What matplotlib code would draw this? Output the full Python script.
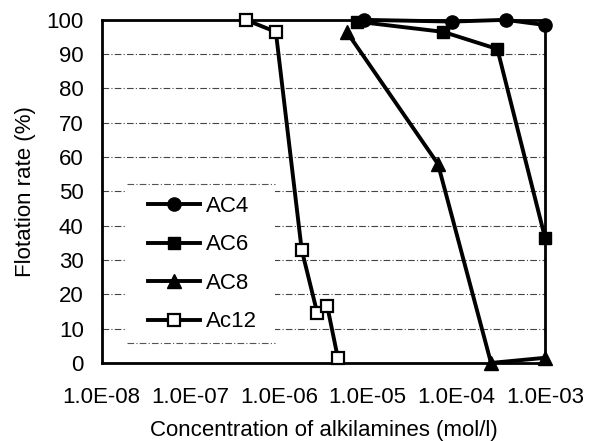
import matplotlib
matplotlib.use("Agg")
import matplotlib.pyplot as plt
from matplotlib.ticker import FixedLocator, NullLocator
from matplotlib.patches import Rectangle

plt.rcParams['font.family'] = ['Liberation Sans', 'DejaVu Sans']

ac4_x = [9.0e-6, 9.0e-5, 3.6e-4, 1.0e-3]
ac4_y = [100, 99.5, 100, 98.5]
ac6_x = [7.5e-6, 7.1e-5, 2.9e-4, 1.0e-3]
ac6_y = [99.5, 96.5, 91.5, 36.5]
ac8_x = [5.8e-6, 6.2e-5, 2.46e-4, 1.0e-3]
ac8_y = [96.5, 58, 0, 1.5]
ac12_x = [4.2e-7, 9.2e-7, 1.8e-6, 2.7e-6, 3.5e-6, 4.6e-6]
ac12_y = [100, 96.5, 33, 14.5, 16.5, 1.5]

xticks = [1e-8, 1e-7, 1e-6, 1e-5, 1e-4, 1e-3]
xticklabels = ["1.0E-08", "1.0E-07", "1.0E-06", "1.0E-05", "1.0E-04", "1.0E-03"]
yticks = list(range(0, 101, 10))

fig = plt.figure(figsize=(5.95, 4.41), dpi=100)
ax = fig.add_axes([0.171, 0.177, 0.745, 0.778])
ax.set_xscale('log')
ax.set_xlim(1e-8, 1e-3)
ax.set_ylim(0, 100)

dash = (0, (6, 2, 1, 2))
for y in yticks[1:-1]:
    ax.axhline(y, color='#444444', lw=0.8, ls=dash, zorder=1)

# legend box (white background, dashed top/bottom borders)
lx0, lx1, ly0, ly1 = 0.0564, 0.3905, 0.0583, 0.5219
ax.add_patch(Rectangle((lx0, ly0), lx1 - lx0, ly1 - ly0, transform=ax.transAxes,
                       facecolor='white', edgecolor='none', zorder=2))
for yy in (ly0, ly1):
    ax.plot([lx0, lx1], [yy, yy], transform=ax.transAxes, color='#555555',
            lw=0.8, ls=dash, zorder=2)

lw = 2.8
ax.plot(ac4_x, ac4_y, '-o', color='black', lw=lw, ms=9.5, label='AC4', zorder=3, clip_on=False)
ax.plot(ac6_x, ac6_y, '-s', color='black', lw=lw, ms=8.5, label='AC6', zorder=3, clip_on=False)
ax.plot(ac8_x, ac8_y, '-^', color='black', lw=lw, ms=10, label='AC8', zorder=3, clip_on=False)
ax.plot(ac12_x, ac12_y, '-s', color='black', lw=lw, ms=8.5, mfc='white', mew=1.6,
        label='Ac12', zorder=4, clip_on=False)

ax.xaxis.set_major_locator(FixedLocator(xticks))
ax.xaxis.set_minor_locator(NullLocator())
ax.set_xticks(xticks)
ax.set_xticklabels(xticklabels)
ax.set_yticks(yticks)
ax.tick_params(axis='both', length=0, labelsize=16)
ax.tick_params(axis='y', pad=13)
ax.tick_params(axis='x', pad=17)

for s in ax.spines.values():
    s.set_linewidth(2)
    s.set_color('black')
    s.set_zorder(2.5)

ax.set_xlabel('Concentration of alkilamines (mol/l)', fontsize=16, va='center')
ax.xaxis.set_label_coords(0.5, -0.198)
ax.set_ylabel('Flotation rate (%)', fontsize=16, va='center')
ax.yaxis.set_label_coords(-0.1716, 0.5)

leg = ax.legend(loc='upper left', bbox_to_anchor=(0.1038, 0.4865), fontsize=16,
                frameon=False, handlelength=2.35, handletextpad=0.25,
                labelspacing=0.785, borderpad=0, borderaxespad=0)
leg.set_zorder(5)

fig.savefig('out.png', dpi=100)
